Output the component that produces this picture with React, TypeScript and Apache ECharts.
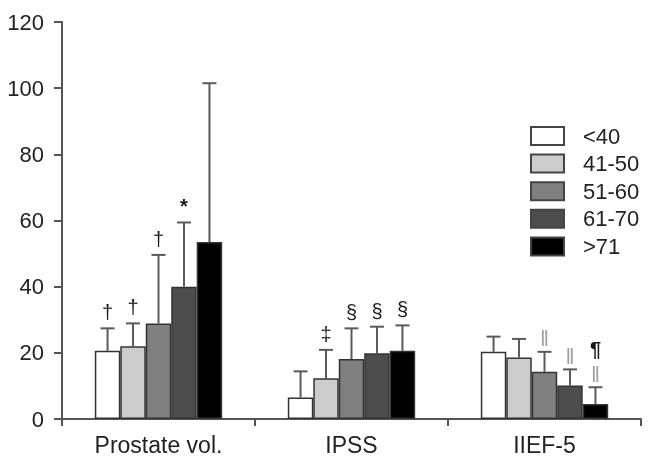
import React, { useEffect, useRef } from "react";
import * as echarts from "echarts";

const categories = ["Prostate vol.", "IPSS", "IIEF-5"];
const ageGroups = ["<40", "41-50", "51-60", "61-70", ">71"];

// mean values per age group, in category order
const meanLt40 = [20.6, 6.5, 20.3];
const mean41to50 = [22.0, 12.3, 18.6];
const mean51to60 = [28.9, 18.1, 14.3];
const mean61to70 = [40.0, 19.9, 10.1];
const meanGt71 = [53.5, 20.6, 4.5];

// standard deviations (upper whisker only)
const sdLt40 = [6.8, 7.9, 4.6];
const sd41to50 = [6.9, 8.6, 5.6];
const sd51to60 = [20.7, 9.3, 6.0];
const sd61to70 = [19.4, 8.0, 4.9];
const sdGt71 = [48.0, 7.7, 5.1];

// significance marks drawn above each whisker (stacked bottom-up, "|" separated)
const markLt40 = ["†", "", ""];
const mark41to50 = ["†", "‡", ""];
const mark51to60 = ["†", "§", "‖"];
const mark61to70 = ["*", "§", "‖"];
const markGt71 = ["", "§", "‖|¶"];

const yTicks = [0, 20, 40, 60, 80, 100, 120];

const means = [meanLt40, mean41to50, mean51to60, mean61to70, meanGt71];
const sds = [sdLt40, sd41to50, sd51to60, sd61to70, sdGt71];
const marks = [markLt40, mark41to50, mark51to60, mark61to70, markGt71];
const fills = ["#ffffff", "#cccccc", "#808080", "#4d4d4d", "#000000"];

const FONT = "'Liberation Sans', Arial, sans-serif";
const CATEGORY_GAP = 0.34;

export default function App() {
  const ref = useRef<HTMLDivElement>(null);

  useEffect(() => {
    if (!ref.current) return;
    const chart = echarts.init(ref.current, undefined, { renderer: "svg" });

    const errorData: any[] = [];
    means.forEach((m, g) => {
      m.forEach((v, c) => {
        errorData.push([c, g, v, v + sds[g][c], marks[g][c]]);
      });
    });

    const barSeries = ageGroups.map((name, g) => ({
      name,
      type: "bar",
      data: means[g],
      barGap: "0%",
      barCategoryGap: CATEGORY_GAP * 100 + "%",
      itemStyle: { color: fills[g], borderColor: "#333333", borderWidth: 1.5 },
      z: 2,
    }));

    const option: any = {
      animation: false,
      textStyle: { fontFamily: FONT },
      grid: { left: 62, right: 12, top: 22, bottom: 40, containLabel: false },
      legend: {
        orient: "vertical",
        left: 530,
        top: 125,
        padding: 0,
        icon: "rect",
        itemWidth: 33,
        itemHeight: 18,
        itemGap: 5.6,
        data: ageGroups,
        itemStyle: { borderColor: "#444444", borderWidth: 2 },
        textStyle: {
          fontFamily: FONT,
          fontSize: 22,
          color: "#222222",
          padding: [0, 0, 0, 14],
        },
      },
      xAxis: {
        type: "category",
        data: categories,
        axisLine: { lineStyle: { color: "#555555", width: 2 } },
        axisTick: { show: true, length: 7, lineStyle: { color: "#555555", width: 2 } },
        axisLabel: { fontFamily: FONT, fontSize: 23, color: "#222222", margin: 14 },
      },
      yAxis: {
        type: "value",
        min: 0,
        max: 120,
        interval: 20,
        splitLine: { show: false },
        axisLine: { show: true, lineStyle: { color: "#555555", width: 2 } },
        axisTick: { show: true, length: 8, lineStyle: { color: "#555555", width: 2 } },
        axisLabel: {
          fontFamily: FONT,
          fontSize: 22,
          color: "#222222",
          margin: 18,
          formatter: (v: number) => (yTicks.includes(v) ? String(v) : ""),
        },
      },
      series: [
        ...barSeries,
        {
          type: "custom",
          name: "sd",
          z: 3,
          data: errorData,
          encode: { x: 0, y: 3 },
          renderItem: (params: any, api: any) => {
            const cat = api.value(0);
            const g = api.value(1);
            const mean = api.value(2);
            const top = api.value(3);
            const mark = errorData[params.dataIndex][4] as string;
            const band = api.size([1, 0])[0];
            const bw = (band * (1 - CATEGORY_GAP)) / ageGroups.length;
            const base = api.coord([cat, mean]);
            const x = base[0] + (g - (ageGroups.length - 1) / 2) * bw;
            const y0 = base[1];
            const y1 = api.coord([cat, top])[1];
            const stroke = { stroke: "#5a5a5a", lineWidth: 2 };
            const children: any[] = [
              { type: "line", shape: { x1: x, y1: y0, x2: x, y2: y1 }, style: stroke },
              { type: "line", shape: { x1: x - 7, y1: y1, x2: x + 7, y2: y1 }, style: stroke },
            ];
            if (mark) {
              let yb = y1;
              mark.split("|").forEach((s) => {
                const isBar = s === "‖";
                const gapBelow = isBar ? 2 : 6;
                children.push({
                  type: "text",
                  style: {
                    text: s,
                    x,
                    y: yb - gapBelow,
                    align: "center",
                    verticalAlign: "bottom",
                    font: (isBar ? "22px " : s === "*" || s === "¶" ? "bold 20px " : "20px ") + FONT,
                    fill: isBar ? "#a0a0a0" : "#1a1a1a",
                  },
                });
                yb = yb - gapBelow - 20;
              });
            }
            return { type: "group", children };
          },
        },
      ],
    };

    chart.setOption(option);
    return () => chart.dispose();
  }, []);

  return (
    <div
      ref={ref}
      style={{ position: "fixed", left: 0, top: 0, width: 653, height: 459 }}
    />
  );
}
